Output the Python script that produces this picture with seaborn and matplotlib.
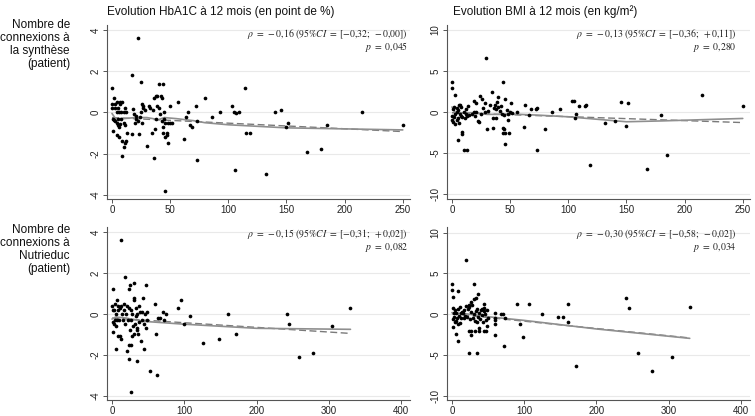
import numpy as np
import pandas as pd
import seaborn as sns
import matplotlib
matplotlib.use("Agg")
import matplotlib.pyplot as plt

# --- data ------------------------------------------------------------------
# HbA1C change vs connexions à la synthèse
syn_hba_x = [0, 0, 0, 1, 1, 2, 2, 3, 3, 3, 4, 4, 4, 4, 5, 5, 5, 6, 6, 6, 7, 7, 7, 8, 8, 9, 9, 9, 10, 10, 10,
             11, 11, 11, 12, 13, 12,
             17, 17, 18, 19, 20, 21, 21, 22, 22, 23, 24, 25, 25, 26, 26, 27, 27, 28, 30, 32, 33,
             34, 35, 36, 36, 37, 38, 38, 39, 39, 40, 40, 41, 42, 43, 43, 44, 44, 44, 45, 45, 46, 46, 46,
             47, 47, 48, 48, 50, 50, 52,
             57, 62, 64, 65, 67, 69, 72, 73, 73, 80, 86, 93, 103, 105, 106, 107, 109, 114, 115, 119,
             132, 140, 145, 150, 151, 168, 180, 185, 215, 250]
syn_hba_y = [1.2, 0.4, 0.2, -0.3, -0.9, 0.7, -0.35, 0.4, 0.2, -0.4, 0.5, 0.0, -0.5, -1.1, -0.6, -0.3, 0.2,
             0.0, -0.7, -1.2, 0.4, 0.5, -0.55, 0.0, -0.3, 0.5, -2.1, -1.4, 0.0, -0.5, -1.7,
             0.2, -1.5, -0.6, -1.4, -1.0, 0.0,
             1.8, -1.05, 0.15, -0.1, -0.5, -0.15, -0.3, 3.6, -0.4, -1.05, -0.2, 1.5, 0.0, 0.4, -0.5, 0.2,
             0.3, 0.1, -1.65, 0.3, 0.2,
             -1.0, 0.1, -2.2, 0.7, -0.8, -0.3, 0.8, 0.3, 0.8, 1.4, 0.2, -0.1, 0.8, 0.7, -0.4, 1.4, -0.7,
             -1.0, -0.3, 0.0, -1.2, -3.8, -0.5, -1.1, -1.0, -1.5, -0.5, 0.3, -0.5, -0.5,
             0.5, -1.3, -0.2, 0.0, -0.6, -0.7, 0.3, -2.3, -0.4, 0.7, -0.2, 0.0, 0.3, 0.0, -2.8, -0.05,
             0.0, 1.2, -1.0, -1.0, -3.0, 0.0, 0.1, -0.7, -0.5, -1.9, -1.8, -0.6, 0.0, -0.6]

# BMI change vs connexions à la synthèse
syn_bmi_x = [0, 0, 0, 0, 1, 1, 2, 2, 3, 3, 3, 4, 4, 4, 5, 5, 5, 6, 6, 7, 7, 8, 8, 9, 9, 9, 10, 10, 11,
             12, 12, 13, 13, 14, 15, 17, 19, 19, 20, 21, 21, 22, 23, 24, 25, 26, 27, 28, 28, 29, 30,
             31, 33, 34, 35, 35, 36, 37, 38, 38, 39, 40, 40, 41, 42, 43, 44, 44, 44, 45, 45, 46, 46,
             46, 47, 48, 48, 49, 50, 51, 52, 56, 62, 63, 66, 68, 72, 73, 73, 80, 86, 93, 103, 105,
             106, 107, 109, 114, 115, 119, 132, 140, 145, 150, 151, 168, 180, 185, 215, 250]
syn_bmi_y = [3.7, 2.9, -0.5, -1.0, -1.2, 0.3, -0.6, 0.6, 2.1, -0.3, -1.5, 0.0, 0.5, -1.0, -3.4, 0.2,
             -0.8, 0.8, -1.3, 0.9, -0.2, -0.5, 0.6, -2.4, -2.7, -0.6, -4.7, 0.0, -0.8, -0.3, 0.4,
             -4.7, -0.5, 0.7, -0.4, -0.3, 1.3, 0.0, -0.5, 1.1, 0.0, -1.1, -1.2, 1.9, -0.3, 1.6, 0.5,
             1.1, 0.0, 6.6, -2.1, 0.1, 0.9, 2.4, -2.0, -0.8, 0.5, 0.9, -0.7, 0.3, 1.2, 1.8, 0.6, 0.1,
             0.7, -0.2, 3.6, -2.0, -2.6, -0.4, -2.1, 1.6, -3.9, -2.6, 0.2, -0.3, -1.0, -2.6, 0.0,
             1.1, -0.1, 0.0, -1.9, 0.85, -0.4, 0.4, 0.3, 0.5, -4.65, -2.1, 0.0, 0.35, 1.3, 1.35,
             -0.7, -0.3, 0.75, 0.7, 0.8, -6.45, -1.3, -1.05, 1.2, -1.75, 1.05, -7.0, -0.35, -5.3,
             2.0, 0.7]

# HbA1C change vs connexions à Nutrieduc
nut_hba_x = [0, 1, 1, 2, 2, 3, 3, 4, 4, 5, 6, 6, 7, 7, 8, 8, 9, 10, 11, 11, 12, 12, 13, 14, 15, 16,
             17, 18, 18, 20, 21, 21, 22, 23, 23, 24, 24, 25, 25, 26, 26, 27, 27, 28, 28, 29, 30, 30,
             31, 31, 32, 33, 33, 34, 34, 35, 35, 36, 37, 38, 39, 40, 41, 42, 43, 44, 45, 46, 47, 47,
             48, 49,
             52, 60, 61, 62, 63, 67, 70, 72, 75, 92, 95, 100, 108, 126, 148, 160, 171, 242, 245,
             259, 278, 305, 330]
nut_hba_y = [0.4, 1.2, -0.9, 0.2, -0.4, -0.5, 0.2, 0.5, -0.3, -0.6, -1.7, 0.0, 0.7, -0.3, 0.4, -1.1,
             0.2, -0.3, 0.3, -1.1, 3.6, -1.2, 0.4, 0.0, -0.3, 0.2, 0.5, 1.8, -0.5, 0.0, -1.8, 0.4,
             -0.3, 1.2, -2.2, -1.5, 0.3, -0.8, 1.4, -1.5, -0.3, 0.2, -3.8, -1.1, 0.0, -0.6, 0.7,
             -1.0, 1.5, 0.8, -0.5, -0.1, 0.3, -2.3, -0.8, 0.0, -0.7, -1.0, 0.4, -0.4, 0.1, -1.3,
             -0.3, 0.1, 0.8, -0.5, -1.7, 0.0, 1.4, -0.7, 0.1, -0.3,
             -2.8, 0.5, -1.0, -3.0, -0.2, -0.2, 0.1, -0.3, 0.0, 0.3, 0.7, -0.5, -0.1, -1.4, -1.2,
             0.0, -1.0, 0.0, -0.5, -2.1, -1.9, -0.6, 0.3]

# BMI change vs connexions à Nutrieduc
nut_bmi_x = [0, 0, 1, 1, 2, 2, 3, 3, 4, 4, 5, 6, 6, 7, 8, 8, 9, 9, 10, 11, 11, 12, 13, 14, 15, 16,
             17, 18, 19, 20, 21, 22, 23, 24, 24, 24, 25, 26, 26, 26, 27, 28, 29, 30, 30, 31, 32, 32,
             33, 33, 34, 35, 35, 36, 36, 37, 38, 38, 39, 40, 41, 42, 43, 44, 44, 45, 45, 46, 47, 47,
             48, 49, 50,
             60, 60, 60, 60, 60, 68, 70, 72, 74, 90, 94, 99, 107, 125, 147, 153, 160, 160, 171, 241,
             245, 258, 277, 304, 329]
nut_bmi_y = [3.7, 3.0, -1.5, -0.6, 2.1, 0.8, -0.3, 0.2, -1.0, 0.5, -0.8, -2.4, 0.1, -0.4, 0.6, -1.2,
             2.9, -3.3, -0.2, 0.9, -1.1, 0.1, -0.5, 0.3, 0.2, -0.4, 0.5, -0.2, 6.7, 1.0, -0.3, 0.7,
             1.1, -4.7, -2.0, 0.9, -0.6, -2.0, -2.6, 1.5, 0.3, 1.1, -0.5, 3.7, 0.0, 1.9, -2.0, -0.8,
             2.0, 0.4, -1.0, -4.7, 0.6, 2.45, -0.3, -1.7, -2.0, 0.2, -0.6, 0.5, -0.1, 0.6, -0.9, 1.3,
             0.4, -2.0, 0.8, 0.0, -2.0, -0.7, 0.5, -1.4, -0.5,
             0.1, -0.5, -0.75, -1.2, -2.6, 0.0, 0.0, -3.9, -0.5, 1.3, -1.2, -2.8, 1.2, 0.05, -0.3,
             -0.3, 1.3, -1.0, -6.35, 2.05, 0.8, -4.7, -6.95, -5.2, 0.85]

# smoothed (solid) and linear (dashed) fit curves
syn_hba_smooth_x = [0, 3, 10, 20, 30, 40, 45, 55, 70, 80, 100, 150, 200, 250]
syn_hba_smooth_y = [-0.05, -0.3, -0.3, -0.25, -0.25, -0.35, -0.25, -0.3, -0.4, -0.5, -0.6, -0.75, -0.8, -0.85]
syn_hba_lin_x = [0, 250]
syn_hba_lin_y = [-0.25, -0.93]

syn_bmi_smooth_x = [0, 3, 20, 30, 40, 50, 75, 100, 150, 180, 250]
syn_bmi_smooth_y = [0.6, -0.1, -0.1, -0.3, -0.3, -0.25, -0.4, -0.6, -1.2, -1.1, -0.8]
syn_bmi_lin_x = [0, 250]
syn_bmi_lin_y = [-0.1, -1.3]

nut_hba_smooth_x = [0, 5, 20, 40, 100, 200, 330]
nut_hba_smooth_y = [-0.25, -0.15, -0.2, -0.35, -0.5, -0.7, -0.75]
nut_hba_lin_x = [0, 330]
nut_hba_lin_y = [-0.2, -0.95]

nut_bmi_smooth_x = [0, 20, 50, 100, 200, 329]
nut_bmi_smooth_y = [0.2, 0.05, -0.3, -0.75, -1.8, -2.95]
nut_bmi_lin_x = [0, 329]
nut_bmi_lin_y = [0.05, -2.9]

# correlation annotations (already formatted as printed)
rho_txt = ["-0{,}16", "-0{,}13", "-0{,}15", "-0{,}30"]
ci_lo_txt = ["-0{,}32", "-0{,}36", "-0{,}31", "-0{,}58"]
ci_hi_txt = ["-0{,}00", "+0{,}11", "+0{,}02", "-0{,}02"]
p_txt = ["0{,}045", "0{,}280", "0{,}082", "0{,}034"]

col_titles = ["Evolution HbA1C à 12 mois (en point de %)", "Evolution BMI à 12 mois (en kg/m²)"]
row_titles = ["Nombre de\nconnexions à\nla synthèse\n(patient)", "Nombre de\nconnexions à\nNutrieduc\n(patient)"]
hba_ticks = [-4, -2, 0, 2, 4]
bmi_ticks = [-10, -5, 0, 5, 10]
syn_xticks = [0, 50, 100, 150, 200, 250]
nut_xticks = [0, 100, 200, 300, 400]

# --- styling ---------------------------------------------------------------
sns.set_theme(style="white")
plt.rcParams['font.family'] = ['Liberation Sans', 'DejaVu Sans']
plt.rcParams['axes.unicode_minus'] = False
plt.rcParams['mathtext.fontset'] = 'stix'

fig = plt.figure(figsize=(7.55, 4.16), dpi=100)
positions = [[0.1417, 0.522, 0.401, 0.418], [0.592, 0.522, 0.401, 0.418],
             [0.1417, 0.0385, 0.401, 0.416], [0.592, 0.0385, 0.401, 0.416]]

panels = [
    (syn_hba_x, syn_hba_y, syn_hba_smooth_x, syn_hba_smooth_y, syn_hba_lin_x, syn_hba_lin_y,
     syn_xticks, (-4.3, 256), hba_ticks, (-4.2, 4.25)),
    (syn_bmi_x, syn_bmi_y, syn_bmi_smooth_x, syn_bmi_smooth_y, syn_bmi_lin_x, syn_bmi_lin_y,
     syn_xticks, (-4.3, 256), bmi_ticks, (-10.6, 10.6)),
    (nut_hba_x, nut_hba_y, nut_hba_smooth_x, nut_hba_smooth_y, nut_hba_lin_x, nut_hba_lin_y,
     nut_xticks, (-6.9, 412), hba_ticks, (-4.2, 4.25)),
    (nut_bmi_x, nut_bmi_y, nut_bmi_smooth_x, nut_bmi_smooth_y, nut_bmi_lin_x, nut_bmi_lin_y,
     nut_xticks, (-6.9, 412), bmi_ticks, (-10.5, 10.7)),
]

for i, (px, py, sx, sy, lx, ly, xt, xl, yt, yl) in enumerate(panels):
    ax = fig.add_axes(positions[i])
    for t in yt:
        ax.axhline(t, color="#e9e9e9", lw=0.8, zorder=0)
    sns.lineplot(x=lx, y=ly, ax=ax, color="#7a7a7a", lw=1.0, linestyle=(0, (5, 2.5)),
                 sort=False, estimator=None, zorder=2)
    sns.lineplot(x=sx, y=sy, ax=ax, color="#8f8f8f", lw=1.2, sort=False, estimator=None, zorder=2)
    sns.scatterplot(x=px, y=py, ax=ax, color="black", s=7, linewidth=0, zorder=3)

    ax.set_xlim(*xl)
    ax.set_ylim(*yl)
    ax.set_xticks(xt)
    ax.set_yticks(yt)
    ax.set_yticklabels([str(t) for t in yt], rotation=90, va="center")
    ax.tick_params(axis="both", direction="out", length=3, width=0.7, color="#555555",
                   labelsize=7, labelcolor="#222222", pad=1.5)
    ax.tick_params(axis="x", bottom=True)
    ax.tick_params(axis="y", left=True)
    for side in ["top", "right"]:
        ax.spines[side].set_visible(False)
    for side in ["left", "bottom"]:
        ax.spines[side].set_color("#555555")
        ax.spines[side].set_linewidth(0.8)
    ax.set_xlabel("")
    ax.set_ylabel("")

    line1 = rf"$\rho\ =\ {rho_txt[i]}\ (95\%CI\ =\ [{ci_lo_txt[i]};\ {ci_hi_txt[i]}])$"
    line2 = rf"$p\ =\ {p_txt[i]}$"
    tx = 0.995 if i % 2 == 0 else 0.958
    ty1, ty2 = (0.95, 0.872) if i < 2 else (0.962, 0.884)
    ax.text(tx, ty1, line1, transform=ax.transAxes, ha="right", va="center", fontsize=7, color="#222222")
    ax.text(tx, ty2, line2, transform=ax.transAxes, ha="right", va="center", fontsize=7, color="#222222")

fig.text(107 / 755, 1 - 12 / 416, col_titles[0], ha="left", va="center", fontsize=8.5, color="#111111")
fig.text(453 / 755, 1 - 12 / 416, col_titles[1], ha="left", va="center", fontsize=8.5, color="#111111")
fig.text(70 / 755, 1 - 19 / 416, row_titles[0], ha="right", va="top", fontsize=8.5,
         color="#111111", linespacing=1.1)
fig.text(70 / 755, 1 - 224 / 416, row_titles[1], ha="right", va="top", fontsize=8.5,
         color="#111111", linespacing=1.1)

fig.savefig("out.png", dpi=100)
